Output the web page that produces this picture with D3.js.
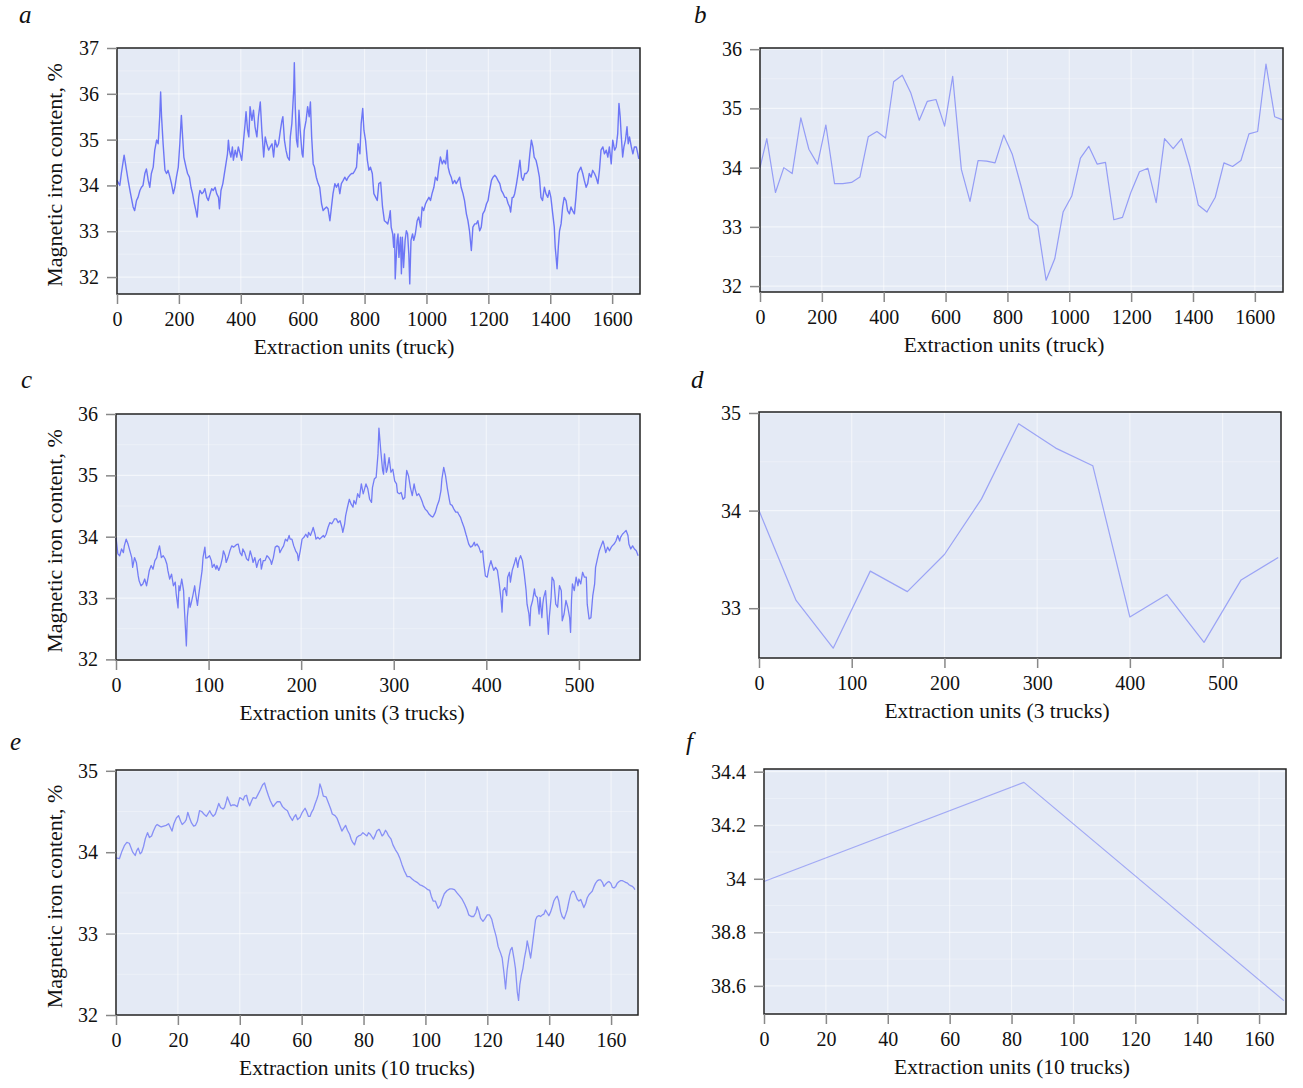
<!DOCTYPE html>
<html>
<head>
<meta charset="utf-8">
<script src="https://cdn.jsdelivr.net/npm/d3@7"></script>
<style>
  body { margin: 0; background: #fff; }
  text { font-family: "Liberation Serif", "Times New Roman", serif; fill: #111; }
</style>
</head>
<body>
<svg id="chart" width="1303" height="1088"></svg>
<script>
// --- a: single truck, full series
const aUnits = [0,9,14,23,30,36,43,52,57,63,68,74,79,84,90,95,101,106,111,117,122,128,133,138,141,144,149,155,160,165,
  171,176,182,187,192,198,203,208,212,216,223,228,234,239,244,250,255,259,264,268,274,279,284,290,295,301,306,311,317,322,
  328,331,336,342,347,352,357,360,363,368,373,376,382,387,392,398,403,409,414,417,422,426,430,436,441,446,452,457,463,468,
  474,479,484,490,495,501,506,511,517,522,528,533,536,541,546,551,557,560,565,571,573,576,580,584,588,592,598,601,605,611,
  616,621,625,629,634,638,644,650,655,661,666,671,677,682,688,693,698,704,709,715,720,725,731,736,742,747,752,758,763,769,
  774,779,785,789,794,798,803,809,814,819,825,830,836,841,846,852,
  858,864,869,875,880,883,886,891,894,897,899,905,908,911,916,919,922,926,931,935,939,943,946,950,955,959,964,970,975,981,
  986,991,997,1002,1008,1013,1018,1024,1029,1035,1040,1045,1051,1056,1062,1067,1070,1075,1080,1085,1091,1096,1102,1107,1112,1118,1123,1129,1134,1139,
  1145,1150,1156,1161,1166,1172,1177,1182,1188,1194,1199,1204,1210,1215,1221,1226,1231,1237,1242,1248,1253,1258,1264,1269,1272,1277,1281,1285,1291,1296,
  1302,1307,1312,1318,1323,1329,1334,1339,1344,1348,1354,1359,1365,1370,1375,1381,1386,1392,1397,1402,1408,1413,1416,1419,1422,1426,1430,1435,1440,1445,
  1451,1456,1462,1467,1472,1478,1483,1489,1494,1499,1505,1510,1516,1521,1526,1532,1537,1543,1548,1554,1559,1564,1570,1575,1581,1586,1591,1597,1602,1608,
  1613,1618,1622,1626,1629,1634,1638,1643,1648,1652,1656,1662,1667,1672,1678,1683,1686];
const aContent = [34.11,34.00,34.26,34.66,34.36,34.11,33.85,33.53,33.45,33.67,33.74,33.89,33.96,34.00,34.26,34.36,34.11,33.96,34.26,34.40,
  34.77,34.99,34.91,35.50,36.04,35.50,34.91,34.33,34.26,34.33,34.18,34.04,33.82,33.96,34.18,34.40,34.91,35.53,35.06,34.62,
  34.40,34.26,34.18,33.96,33.82,33.60,33.45,33.31,33.74,33.89,33.82,33.85,33.93,33.74,33.67,33.82,33.93,33.89,33.96,33.82,
  33.74,33.49,33.89,34.04,34.26,34.47,34.69,34.99,34.77,34.62,34.84,34.55,34.77,34.62,34.84,34.69,34.55,34.99,35.35,35.61,
  35.20,35.06,35.72,35.42,35.64,35.28,35.06,35.50,35.82,35.20,34.62,35.06,34.91,34.77,34.84,34.91,34.62,34.99,34.84,34.91,
  35.20,35.42,35.50,34.99,34.77,34.62,34.55,35.06,35.35,36.08,36.68,35.72,34.99,34.84,35.64,35.20,34.69,34.62,35.20,35.42,
  35.72,35.50,35.82,35.06,34.47,34.40,34.18,34.04,33.96,33.60,33.45,33.49,33.53,33.49,33.23,33.53,33.82,34.04,33.96,34.04,
  33.82,34.04,34.11,34.18,34.11,34.18,34.22,34.26,34.26,34.33,34.40,34.91,34.69,35.35,35.68,35.20,34.99,34.55,34.33,34.40,
  34.26,33.82,33.74,33.67,34.04,34.07,
  33.53,33.23,33.20,33.16,33.31,33.45,33.09,32.94,32.65,32.94,31.96,32.80,32.94,32.43,32.87,32.07,32.87,32.21,32.80,33.01,
  32.94,32.50,31.85,32.80,32.94,32.80,32.94,33.23,33.31,33.09,33.53,33.45,33.60,33.67,33.74,33.67,33.82,33.96,34.18,34.11,
  34.40,34.62,34.47,34.55,34.47,34.77,34.40,34.26,34.18,34.04,34.11,34.04,34.11,34.18,33.96,33.82,33.67,33.38,33.23,33.01,
  32.58,33.09,33.16,33.16,33.23,33.01,33.09,33.38,33.45,33.60,33.67,33.89,34.11,34.18,34.22,34.18,34.11,34.04,33.89,33.82,
  33.74,33.74,33.60,33.53,33.42,33.74,33.74,33.82,34.04,34.26,34.55,34.18,34.11,34.26,34.26,34.33,34.69,34.99,34.84,34.62,
  34.55,34.40,34.18,33.74,33.67,33.96,33.82,33.74,33.89,33.74,33.38,33.09,32.65,32.43,32.18,32.65,33.01,33.16,33.53,33.74,
  33.67,33.45,33.38,33.53,33.45,33.38,33.74,34.26,34.33,34.40,34.26,34.11,33.96,34.04,34.26,34.18,34.33,34.26,34.18,34.04,
  34.33,34.77,34.84,34.69,34.77,34.62,34.84,34.47,34.99,34.77,34.84,35.13,35.79,35.50,35.13,34.62,34.84,34.99,35.28,34.91,
  35.06,34.84,34.69,34.84,34.84,34.69,34.58];

// --- b: single truck, averaged samples
const bUnits = [0,22,50,77,104,132,158,186,213,241,268,296,323,350,378,406,432,460,487,515,541,569,597,623,651,679,705,733,760,788,
  816,844,871,898,925,953,980,1008,1036,1063,1090,1117,1144,1172,1199,1227,1254,1281,1308,1336,1363,1390,1417,1445,1472,1500,1528,1555,1581,1609,
  1636,1664,1688];
const bContent = [34.00,34.49,33.58,34.00,33.90,34.84,34.31,34.06,34.72,33.73,33.73,33.75,33.84,34.52,34.61,34.50,35.45,35.56,35.27,34.80,
  35.12,35.15,34.70,35.54,33.97,33.43,34.12,34.11,34.08,34.55,34.22,33.69,33.14,33.02,32.10,32.46,33.25,33.52,34.16,34.36,
  34.06,34.09,33.12,33.16,33.58,33.93,33.99,33.41,34.49,34.32,34.49,34.01,33.37,33.25,33.50,34.08,34.02,34.12,34.57,34.61,
  35.75,34.86,34.81];

// --- c: 3 trucks
const cUnits = [0,2,4,6,8,9,11,13,15,17,18,20,22,24,25,27,29,31,33,35,36,38,40,42,44,45,47,49,51,53,
  55,56,58,60,62,64,65,67,68,69,71,73,74,76,77,79,80,81,83,85,86,88,89,91,93,94,96,97,99,101,
  103,104,106,108,109,111,113,115,116,118,119,121,123,125,127,128,130,132,134,136,137,139,141,143,145,147,148,150,152,154,
  156,157,159,161,163,165,167,168,170,172,174,176,177,179,181,183,185,187,188,190,192,194,196,197,199,201,203,205,207,208,
  210,212,213,215,216,218,220,222,224,225,227,229,231,233,235,236,238,240,242,244,245,247,248,250,252,254,256,257,259,261,
  263,265,267,268,270,272,274,276,277,279,281,283,
  284,286,288,289,290,292,293,295,297,299,301,303,304,306,308,310,312,313,314,316,318,320,322,323,325,327,329,331,332,334,
  336,338,340,342,343,345,347,349,351,352,354,356,358,360,361,363,365,367,369,370,372,374,376,378,379,381,383,385,387,388,
  390,392,394,396,397,399,401,403,405,406,408,410,412,414,416,417,418,420,422,423,425,426,428,430,432,434,435,437,439,441,
  443,444,446,447,448,450,452,453,455,457,458,460,461,462,464,465,467,468,470,471,473,475,477,479,481,482,484,486,488,490,
  491,492,493,495,497,499,500,502,504,506,508,509,511,513,515,517,518,520,522,524,526,527,529,531,533,535,536,538,540,542,
  544,545,547,549,551,553,554,556,558,560,562,564];
const cContent = [33.99,33.72,33.69,33.80,33.74,33.85,33.96,33.88,33.77,33.66,33.50,33.66,33.58,33.36,33.28,33.20,33.23,33.31,33.20,33.36,
  33.45,33.53,33.47,33.61,33.66,33.74,33.85,33.66,33.69,33.64,33.55,33.45,33.31,33.39,33.20,33.26,33.07,32.84,33.20,33.12,
  33.31,33.12,32.79,32.22,32.68,33.01,32.85,32.90,33.04,33.20,33.07,32.88,33.01,33.23,33.45,33.66,33.83,33.65,33.66,33.69,
  33.61,33.50,33.55,33.47,33.53,33.45,33.53,33.66,33.77,33.69,33.58,33.66,33.77,33.85,33.83,33.84,33.87,33.88,33.74,33.69,
  33.80,33.74,33.64,33.61,33.77,33.66,33.58,33.66,33.50,33.61,33.64,33.47,33.61,33.61,33.69,33.66,33.61,33.55,33.66,33.83,
  33.85,33.83,33.74,33.80,33.85,33.96,33.93,34.02,33.96,33.96,33.85,33.77,33.72,33.61,33.77,33.96,33.99,34.04,33.99,34.07,
  34.02,34.10,34.15,34.04,33.96,33.99,33.96,33.99,34.02,33.99,34.04,34.15,34.23,34.21,34.26,34.29,34.29,34.23,34.26,34.15,
  34.07,34.21,34.34,34.48,34.61,34.53,34.48,34.59,34.53,34.70,34.64,34.86,34.70,34.75,34.86,34.78,34.61,34.56,34.80,34.94,
  34.97,35.35,
  35.77,35.40,35.08,35.02,35.35,35.05,35.10,35.29,35.05,35.10,34.91,34.86,34.72,34.70,34.72,34.61,34.64,34.89,35.08,34.99,
  34.80,34.67,34.86,34.78,34.67,34.70,34.64,34.56,34.51,34.45,34.42,34.37,34.34,34.32,34.34,34.40,34.51,34.59,34.75,34.94,
  35.13,34.99,34.78,34.61,34.53,34.51,34.45,34.40,34.40,34.37,34.32,34.23,34.15,34.04,33.99,33.88,33.83,33.85,33.91,33.85,
  33.88,33.83,33.74,33.77,33.61,33.36,33.34,33.50,33.61,33.55,33.45,33.50,33.45,33.23,32.96,32.77,33.12,33.17,33.04,33.34,
  33.42,33.26,33.45,33.55,33.66,33.50,33.61,33.69,33.61,33.39,33.12,32.90,32.74,32.55,32.85,32.96,33.15,33.04,33.01,32.74,
  33.01,32.68,32.90,33.01,33.12,32.90,32.41,32.68,33.01,33.34,33.28,32.90,32.85,33.20,33.12,32.63,32.74,32.96,32.85,32.68,
  32.44,32.96,33.23,33.12,33.34,33.20,33.31,33.23,33.42,33.34,33.34,32.90,32.66,32.68,33.04,33.23,33.50,33.64,33.77,33.85,
  33.93,33.88,33.74,33.83,33.77,33.83,33.85,33.88,33.93,34.02,33.93,33.99,34.04,34.07,34.10,34.02,33.88,33.80,33.85,33.80,
  33.77,33.69];

// --- d: 3 trucks, averaged
const dUnits = [0,40,80,120,160,200,240,280,320,360,400,440,480,520,560];
const dContent = [34.00,33.08,32.59,33.38,33.17,33.55,34.12,34.89,34.64,34.46,32.91,33.14,32.65,33.29,33.52];

// --- e: 10 trucks
const eUnits = [0,1.1,1.9,2.7,3.5,4.3,4.9,5.4,6.2,6.7,7.2,7.8,8.3,8.9,9.5,10.2,10.8,11.5,12.1,12.8,
  13.3,14.1,14.6,15.4,16.2,17,17.5,18.1,18.7,19.5,20.2,20.9,21.4,22.2,22.7,23.2,23.8,24.4,25.1,25.7,
  26.3,27,27.7,28.4,29.2,29.7,30.3,30.8,31.4,32.1,32.8,33.2,33.8,34.6,35.1,35.7,36,36.5,37.1,37.6,
  38.4,39.2,40,40.5,41.1,41.6,42.2,42.7,43.2,43.8,44.3,45.2,45.9,46.7,47.4,48,48.6,49.3,49.9,50.8,
  51.4,52.1,53,53.8,54.6,55.4,56.2,57,57.5,58.1,58.7,59.5,60.2,61.1,61.6,62.2,62.7,63.2,63.8,64.3,
  64.9,65.4,65.9,66.5,67,67.9,68.6,69.4,69.9,70.8,71.4,72.2,73,73.5,74.2,74.8,75.5,76,76.5,77.1,
  77.8,78.4,79.1,79.8,80.4,81.1,81.6,82.2,82.7,83.2,83.8,84.3,84.9,
  85.1,86,86.5,87.1,87.6,88.1,88.9,89.5,90.3,91,91.7,92.4,93.2,94.1,94.9,95.7,96.4,97.3,98.2,98.9,
  99.8,100.8,101.4,101.9,102.5,103.2,104.1,104.9,105.4,106.1,107,107.9,108.6,109.4,110.2,111.1,111.9,112.7,113.5,114,
  114.8,115.6,116.3,116.7,117.3,117.8,118.6,119.2,120,120.7,121.4,122.1,122.9,123.5,124.3,124.8,125.4,125.9,126.4,127,
  127.5,128,128.6,129.1,129.7,130.1,130.5,131,131.5,132,132.6,132.9,133.4,134,134.5,135.1,135.6,136.1,136.7,137.2,
  137.8,138.3,138.8,139.4,139.9,140.5,141,141.5,142.1,142.6,143.1,143.7,144.2,144.8,145.3,145.8,146.4,146.9,147.5,148,
  148.5,149.1,149.6,150.2,150.7,151.2,151.8,152.3,152.9,153.4,153.9,154.5,155,155.6,156.1,156.6,157.2,157.7,158.3,158.8,
  159.3,159.9,160.4,160.9,161.5,162,162.6,163.1,163.6,164.2,164.7,165.3,165.8,166.3,166.9,167.4,167.7];
const eContent = [33.93,33.92,34.01,34.08,34.12,34.11,34.05,34.00,33.96,34.02,34.05,33.98,34.00,34.07,34.17,34.24,34.18,34.20,34.26,34.32,
  34.34,34.32,34.31,34.32,34.33,34.35,34.31,34.26,34.35,34.42,34.45,34.38,34.34,34.37,34.40,34.49,34.42,34.36,34.32,34.33,
  34.38,34.51,34.50,34.47,34.44,34.47,34.51,34.47,34.44,34.47,34.55,34.60,34.55,34.53,34.55,34.63,34.68,34.63,34.57,34.58,
  34.58,34.56,34.67,34.66,34.64,34.69,34.70,34.62,34.57,34.63,34.67,34.66,34.71,34.77,34.83,34.85,34.77,34.69,34.63,34.56,
  34.59,34.62,34.62,34.56,34.53,34.51,34.44,34.39,34.43,34.46,34.40,34.43,34.49,34.54,34.50,34.44,34.44,34.49,34.53,34.59,
  34.65,34.71,34.84,34.77,34.69,34.68,34.61,34.53,34.47,34.45,34.42,34.34,34.26,34.29,34.33,34.27,34.22,34.16,34.12,34.09,
  34.18,34.20,34.21,34.24,34.22,34.20,34.24,34.22,34.19,34.16,34.21,34.26,34.28,
  34.28,34.20,34.22,34.27,34.24,34.20,34.16,34.09,34.03,33.99,33.93,33.85,33.77,33.70,33.70,33.67,33.65,33.63,33.60,33.59,
  33.57,33.54,33.53,33.46,33.40,33.40,33.31,33.35,33.42,33.49,33.53,33.55,33.55,33.54,33.50,33.46,33.42,33.36,33.29,33.23,
  33.21,33.21,33.26,33.33,33.27,33.19,33.15,33.18,33.23,33.23,33.18,33.07,32.96,32.84,32.76,32.70,32.51,32.32,32.55,32.72,
  32.80,32.83,32.70,32.57,32.28,32.18,32.37,32.49,32.57,32.70,32.82,32.91,32.82,32.70,32.84,33.02,33.17,33.21,33.22,33.21,
  33.23,33.24,33.29,33.25,33.22,33.27,33.33,33.40,33.44,33.46,33.40,33.27,33.21,33.18,33.23,33.29,33.40,33.48,33.52,33.52,
  33.48,33.42,33.40,33.42,33.37,33.32,33.37,33.44,33.48,33.50,33.52,33.58,33.62,33.65,33.66,33.66,33.63,33.58,33.61,33.63,
  33.64,33.62,33.57,33.56,33.58,33.62,33.64,33.65,33.65,33.64,33.63,33.62,33.60,33.59,33.58,33.56,33.54];

// --- f: 10 trucks, averaged
const fUnits = [0, 84, 168];
const fContent = [33.99, 34.36, 33.545];

// tick labels
const truckTicks = [0, 200, 400, 600, 800, 1000, 1200, 1400, 1600];
const threeTicks = [0, 100, 200, 300, 400, 500];
const tenTicks = [0, 20, 40, 60, 80, 100, 120, 140, 160];
const fTickValues = [33.6, 33.8, 34.0, 34.2, 34.4];
const fTickLabels = ['38.6', '38.8', '34', '34.2', '34.4'];

const yTitle = 'Magnetic iron content, %';

const panels = [
  { letter: 'a', lpos: [19, 23], box: [117, 48, 640, 294], xs: aUnits, ys: aContent,
    xd: [0, 1690], yd: [31.63, 37], xt: truckTicks, yt: [32, 33, 34, 35, 36, 37], minor: 0.5,
    title: 'Extraction units (truck)', tx: 354, ytitle: true, op: 0.9, sw: 1.4 },
  { letter: 'b', lpos: [694, 23], box: [760, 48, 1283, 292], xs: bUnits, ys: bContent,
    xd: [0, 1691], yd: [31.9, 36.02], xt: truckTicks, yt: [32, 33, 34, 35, 36], minor: 0.5,
    title: 'Extraction units (truck)', tx: 1004, ytitle: false, op: 0.6, sw: 1.2 },
  { letter: 'c', lpos: [21, 388], box: [116, 414, 640, 660], xs: cUnits, ys: cContent,
    xd: [0, 566], yd: [31.99, 36], xt: threeTicks, yt: [32, 33, 34, 35, 36], minor: 0.5,
    title: 'Extraction units (3 trucks)', tx: 352, ytitle: true, op: 0.85, sw: 1.3 },
  { letter: 'd', lpos: [691, 388], box: [759, 412, 1281, 658], xs: dUnits, ys: dContent,
    xd: [0, 563], yd: [32.49, 35.01], xt: threeTicks, yt: [33, 34, 35], minor: 0.5,
    title: 'Extraction units (3 trucks)', tx: 997, ytitle: false, op: 0.55, sw: 1.2 },
  { letter: 'e', lpos: [10, 750], box: [116, 770, 638, 1015], xs: eUnits, ys: eContent,
    xd: [0, 168.7], yd: [32, 35.01], xt: tenTicks, yt: [32, 33, 34, 35], minor: 0.5,
    title: 'Extraction units (10 trucks)', tx: 357, ytitle: true, op: 0.7, sw: 1.3 },
  { letter: 'f', lpos: [686, 750], box: [764, 769, 1286, 1014], xs: fUnits, ys: fContent,
    xd: [0, 168.7], yd: [33.495, 34.41], xt: tenTicks, yt: fTickValues, ylab: fTickLabels, minor: 0.1,
    title: 'Extraction units (10 trucks)', tx: 1012, ytitle: false, op: 0.5, sw: 1.2 }
];

const svg = d3.select('#chart');

panels.forEach(p => {
  const [x0, y0, x1, y1] = p.box,
        w = x1 - x0, h = y1 - y0;
  const x = d3.scaleLinear().domain(p.xd).range([0, w]),
        y = d3.scaleLinear().domain(p.yd).range([h, 0]);

  const g = svg.append('g').attr('transform', `translate(${x0},${y0})`);

  g.append('rect').attr('width', w).attr('height', h).attr('fill', '#e4eaf5');

  // grid: minor horizontal, then major
  const minor = d3.range(Math.ceil(p.yd[0] / p.minor) * p.minor, p.yd[1], p.minor)
                  .filter(v => !p.yt.some(t => Math.abs(t - v) < 1e-6));
  g.selectAll('.gm').data(minor).enter().append('line')
    .attr('x1', 0).attr('x2', w)
    .attr('y1', d => y(d)).attr('y2', d => y(d))
    .attr('stroke', '#fff').attr('stroke-opacity', 0.3).attr('stroke-width', 1);
  g.selectAll('.gy').data(p.yt).enter().append('line')
    .attr('x1', 0).attr('x2', w)
    .attr('y1', d => y(d)).attr('y2', d => y(d))
    .attr('stroke', '#fff').attr('stroke-opacity', 0.55).attr('stroke-width', 1.2);
  g.selectAll('.gx').data(p.xt).enter().append('line')
    .attr('y1', 0).attr('y2', h)
    .attr('x1', d => x(d)).attr('x2', d => x(d))
    .attr('stroke', '#fff').attr('stroke-opacity', 0.5).attr('stroke-width', 1.2);

  const line = d3.line().x((d, i) => x(p.xs[i])).y(d => y(d));
  g.append('path').datum(p.ys)
    .attr('d', line)
    .attr('fill', 'none')
    .attr('stroke', '#5f69f6')
    .attr('stroke-opacity', p.op)
    .attr('stroke-width', p.sw)
    .attr('stroke-linejoin', 'round');

  g.append('rect').attr('width', w).attr('height', h)
    .attr('fill', 'none').attr('stroke', '#222').attr('stroke-width', 1.5);

  const xAxis = d3.axisBottom(x).tickValues(p.xt).tickSize(10).tickPadding(8).tickFormat(d3.format('d'));
  const yAxis = d3.axisLeft(y).tickValues(p.yt).tickSize(10).tickPadding(8)
                  .tickFormat(p.ylab ? ((d, i) => p.ylab[i]) : d3.format('d'));

  [g.append('g').attr('transform', `translate(0,${h})`).call(xAxis),
   g.append('g').call(yAxis)].forEach(ax => {
    ax.select('.domain').remove();
    ax.selectAll('line').attr('stroke', '#888').attr('stroke-width', 1.5);
    ax.selectAll('text').attr('font-size', 20).attr('fill', '#111')
      .style('font-family', '"Liberation Serif", serif');
  });

  svg.append('text').attr('x', p.tx).attr('y', y1 + 60)
    .attr('text-anchor', 'middle').attr('font-size', 21.5).text(p.title);

  if (p.ytitle) {
    svg.append('text')
      .attr('transform', `translate(62,${(y0 + y1) / 2 + 4}) rotate(-90)`)
      .attr('text-anchor', 'middle').attr('font-size', 22).text(yTitle);
  }

  svg.append('text').attr('x', p.lpos[0]).attr('y', p.lpos[1])
    .attr('font-size', 25).attr('font-style', 'italic').text(p.letter);
});
</script>
</body>
</html>
